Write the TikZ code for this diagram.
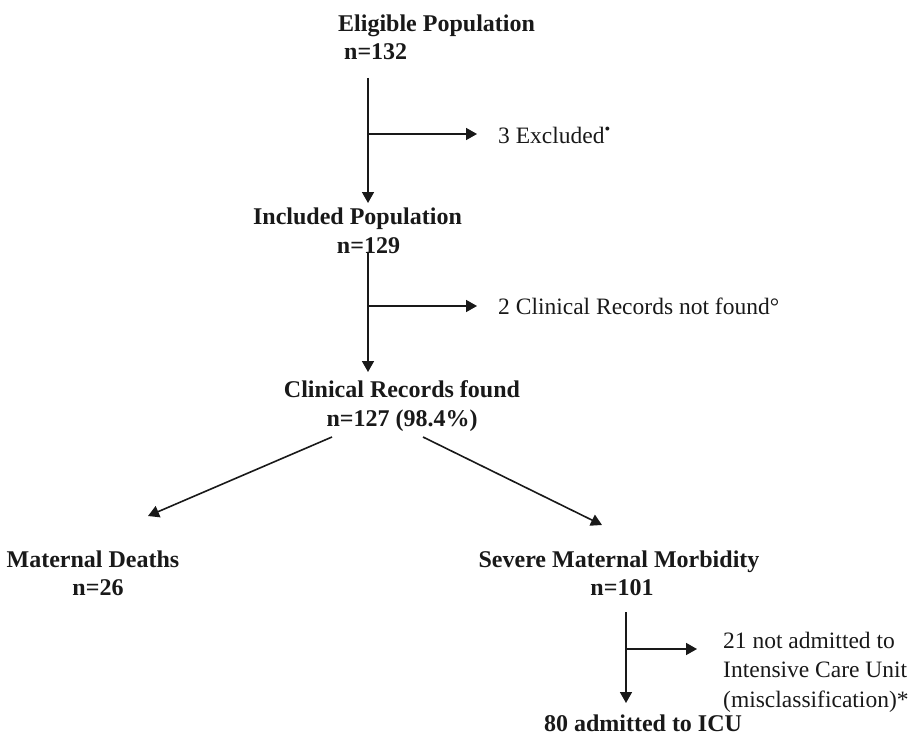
\documentclass[tikz,border=0pt]{standalone}
\usepackage{fontspec}
\setmainfont{Liberation Serif}
\usetikzlibrary{arrows.meta}
\begin{document}
\begin{tikzpicture}[x=1pt,y=-1pt,
  title/.style={font=\fontsize{24}{28.5}\selectfont\bfseries, align=center, inner sep=0pt, text=black!90},
  note/.style={font=\fontsize{23.5}{29.5}\selectfont, align=left, inner sep=0pt, anchor=west, text=black!90},
  seg/.style={line width=1.6pt, draw=black!90},
  arr/.style={seg, -{Triangle[length=11pt,width=12pt]}}]
\useasboundingbox (0,0) rectangle (920,738);
% nodes
\node[title, anchor=west, align=left] (elig) at (338,37.5) {Eligible Population\\\hspace*{6pt}n=132};
\node[title] (inc) at (357.5,231) {Included Population\\\hspace*{22pt}n=129};
\node[title] (crf) at (402,406) {Clinical Records found\\n=127 (98.4\%)};
\node[title] (md) at (93,573.5) {Maternal Deaths\\\hspace*{10pt}n=26};
\node[title] (smm) at (619,573.5) {Severe Maternal Morbidity\\\hspace*{6pt}n=101};
\node[title] (icu) at (643,723) {80 admitted to ICU};
\node[note] (ex1) at (498,135) {3 Excluded\textsuperscript{•}};
\node[note] (ex2) at (498,306) {2 Clinical Records not found°};
\node[note] (ex3) at (723,672) {21 not admitted to\\Intensive Care Unit\\(misclassification)*};
% coordinates
\coordinate (s1) at (368,78);  \coordinate (t1) at (368,203); \coordinate (b1) at (368,134);
\coordinate (s2) at (368,253); \coordinate (t2) at (368,372); \coordinate (b2) at (368,306);
\coordinate (dl1) at (332,437); \coordinate (dl2) at (148,516);
\coordinate (dr1) at (423,437); \coordinate (dr2) at (602,525);
\coordinate (s3) at (626,612); \coordinate (t3) at (626,703); \coordinate (b3) at (626,649);
% connectors
\draw[arr] (s1) -- (t1);
\draw[arr] (b1) -- ([xshift=-21pt]ex1.west |- b1);
\draw[arr] (s2) -- (t2);
\draw[arr] (b2) -- ([xshift=-21pt]ex2.west |- b2);
\draw[arr] (dl1) -- (dl2);
\draw[arr] (dr1) -- (dr2);
\draw[arr] (s3) -- (t3);
\draw[arr] (b3) -- ([xshift=-26pt]ex3.west |- b3);
\end{tikzpicture}
\end{document}
